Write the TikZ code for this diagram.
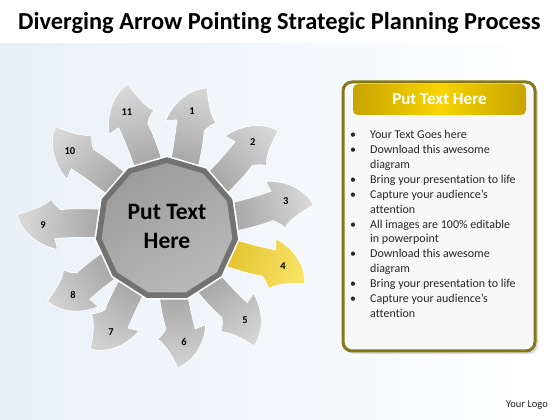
\documentclass[tikz,border=0pt]{standalone}
\usepackage{fontspec}
\setmainfont{Carlito}[Ligatures=NoCommon]
\usetikzlibrary{shapes.geometric}
\definecolor{bgblue}{HTML}{E8F0F8}
\definecolor{txtgray}{HTML}{262626}
\definecolor{polyband}{HTML}{727272}
\definecolor{polytop}{HTML}{9C9C9C}
\definecolor{polybot}{HTML}{B9B9B9}
\definecolor{boxfill}{HTML}{F8F8F8}
\definecolor{frameolive}{HTML}{857819}
\definecolor{hdrA}{HTML}{C9A300}
\definecolor{hdrB}{HTML}{F7D400}
\definecolor{arrlight}{HTML}{DEDEDE}
\definecolor{arrdark}{HTML}{7C7C7C}
\definecolor{yellight}{HTML}{FBE870}
\definecolor{yeldark}{HTML}{D4A800}
\def\arrpath{(20,13) .. controls (60,9) and (90,11) .. (110,13) -- (107,24)
      .. controls (128,20) and (144,6) .. (148,-10)
      .. controls (138,-13) and (122,-18) .. (115,-26)
      .. controls (112,-21) and (108,-18) .. (105,-16)
      .. controls (85,-19) and (50,-18) .. (20,-14) -- cycle}
\begin{document}
\begin{tikzpicture}[x=1pt,y=1pt,
  numlbl/.style={font=\bfseries\fontsize{10.5}{12}\selectfont, inner sep=0, text=black},
  bl/.style={font=\fontsize{12}{14}\selectfont, anchor=base west, inner sep=0, text=txtgray},
  poly/.style={regular polygon, regular polygon sides=11, inner sep=0, draw=none}]
\useasboundingbox (0,0) rectangle (560,420);
\fill[white] (0,0) rectangle (560,420);
\shade[left color=bgblue, right color=white] (0,0) rectangle (560,376);
\node[font=\bfseries\fontsize{24.4}{29}\selectfont, anchor=base west, inner sep=0] (title) at (18,390) {Diverging Arrow Pointing Strategic Planning Process};

\coordinate (C) at (167,191);
% arrows
\foreach \a/\r/\n in {78/120.6/1, 45.3/122/2, 13.2/122/3, -17.7/121.8/4, -49.4/119.9/5, -81.4/114.3/6, -118.5/117.2/7, -144.9/114.9/8, 178.2/124/9, 141.2/124.5/10, 108.9/123.6/11}{
  \pgfmathsetmacro\s{\r/122}
  \ifnum\n=4 \def\ca{yellight}\def\cb{yeldark}\else\def\ca{arrlight}\def\cb{arrdark}\fi
  \begin{scope}
    \clip[shift={(C)}, rotate=\a, xscale=\s] \arrpath;
    \shade[inner color=\cb, outer color=\ca] (C) circle (155);
  \end{scope}
  \draw[shift={(C)}, rotate=\a, xscale=\s, white, line width=0.7] \arrpath;
  \node[numlbl] (n\n) at ([shift={(\a:\r)}]C) {\n};
}
% centre polygon
\node[poly, minimum size=147, fill=white] (halo) at (C) {};
\node[poly, minimum size=143.6, fill=polyband] (band) at (C) {};
\node[poly, minimum size=132, top color=polytop, bottom color=polybot, shading angle=30] (core) at (C) {};
\node[font=\bfseries\fontsize{23.5}{29}\selectfont, align=center, inner sep=0] (ctext) at (167,194) {Put Text\\Here};

% text box
\fill[gray!60, opacity=.45, rounded corners=9] (345,66) rectangle (538,336);
\draw[draw=frameolive, line width=3, fill=boxfill, rounded corners=9] (343,69) rectangle (535,338);
\shade[left color=hdrA, right color=hdrA, middle color=hdrB, rounded corners=5] (353,305) rectangle (526,336);
\node[font=\bfseries\fontsize{17}{20}\selectfont, text=white, inner sep=0] (hdr) at (439.5,321) {Put Text Here};

\foreach \t [count=\i] in {Your Text Goes here, Download this awesome, diagram, Bring your presentation to life, Capture your audience’s, attention, All images are 100\% editable, in powerpoint, Download this awesome, diagram, Bring your presentation to life, Capture your audience’s, attention}{
  \node[bl] (l\i) at (370, {281-(\i-1)*14.85}) {\t};
}
\foreach \i in {1,2,4,5,7,9,11,12}{
  \node[bl, anchor=base] (b\i) at (353, {281-(\i-1)*14.85}) {\textbullet};
}
\node[font=\fontsize{10.5}{12}\selectfont, text=txtgray, inner sep=0] (logo) at (527,14.5) {Your Logo};
\end{tikzpicture}
\end{document}
